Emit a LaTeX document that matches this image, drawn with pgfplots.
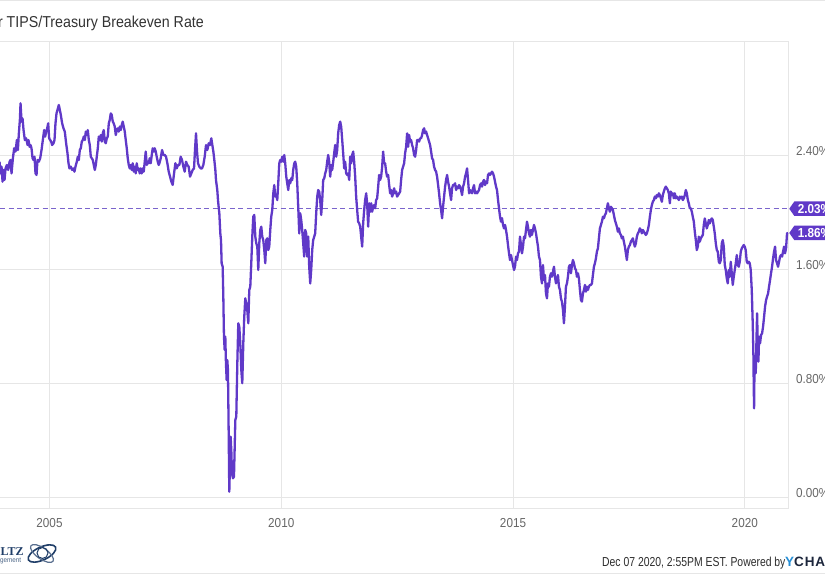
\documentclass[border=0pt]{standalone}
\usepackage{pgfplots}
\pgfplotsset{compat=1.18}
\usepackage{pgfplotstable}
\usepackage{fontspec}
\setmainfont{Liberation Sans}[FakeStretch=0.9]
\newfontfamily\footfont{Liberation Sans}[FakeStretch=0.8]
\newfontfamily\brandfont{Liberation Sans}[LetterSpace=6]
\newfontfamily\logofont{Liberation Serif}
\usetikzlibrary{shapes.symbols}

\definecolor{ycpurple}{RGB}{96,57,200}
\definecolor{dashpurple}{RGB}{122,100,204}
\definecolor{gridgray}{RGB}{230,230,230}
\definecolor{ticklab}{RGB}{102,102,102}
\definecolor{titlegray}{RGB}{51,51,51}
\definecolor{footgray}{RGB}{45,45,45}
\definecolor{ycblue}{RGB}{36,142,214}
\definecolor{ycnavy}{RGB}{28,38,60}
\definecolor{logonavy}{RGB}{32,62,104}

% 10-year breakeven inflation rate, percent (weekly readings)
\pgfplotstableread[row sep=\\]{
year rate\\
2003.922 2.360\\ 2003.944 2.278\\ 2003.965 2.325\\ 2003.987 2.220\\ 2004.009 2.302\\ 2004.030 2.232\\
2004.052 2.313\\ 2004.080 2.337\\ 2004.109 2.302\\ 2004.138 2.360\\ 2004.159 2.372\\ 2004.181 2.278\\
2004.210 2.384\\ 2004.238 2.454\\ 2004.267 2.431\\ 2004.296 2.512\\ 2004.318 2.442\\ 2004.339 2.559\\
2004.361 2.653\\ 2004.375 2.770\\ 2004.397 2.641\\ 2004.418 2.664\\ 2004.440 2.582\\ 2004.468 2.512\\
2004.497 2.524\\ 2004.526 2.477\\ 2004.547 2.512\\ 2004.569 2.465\\ 2004.591 2.477\\ 2004.612 2.454\\
2004.634 2.384\\ 2004.655 2.372\\ 2004.677 2.395\\ 2004.698 2.278\\ 2004.720 2.267\\ 2004.741 2.372\\
2004.770 2.360\\ 2004.799 2.384\\ 2004.828 2.442\\ 2004.856 2.512\\ 2004.885 2.582\\ 2004.907 2.536\\
2004.928 2.571\\ 2004.950 2.594\\ 2004.971 2.629\\ 2004.993 2.524\\ 2005.014 2.512\\ 2005.036 2.501\\
2005.057 2.477\\ 2005.086 2.489\\ 2005.108 2.512\\ 2005.129 2.629\\ 2005.151 2.699\\ 2005.172 2.723\\
2005.201 2.758\\ 2005.223 2.723\\ 2005.244 2.688\\ 2005.273 2.629\\ 2005.302 2.594\\ 2005.330 2.571\\
2005.359 2.489\\ 2005.388 2.419\\ 2005.410 2.349\\ 2005.431 2.313\\ 2005.460 2.325\\ 2005.489 2.302\\
2005.517 2.313\\ 2005.539 2.290\\ 2005.560 2.325\\ 2005.589 2.360\\ 2005.611 2.395\\ 2005.632 2.372\\
2005.654 2.442\\ 2005.675 2.454\\ 2005.697 2.501\\ 2005.718 2.512\\ 2005.740 2.536\\ 2005.762 2.512\\
2005.783 2.571\\ 2005.805 2.547\\ 2005.826 2.582\\ 2005.848 2.512\\ 2005.869 2.477\\ 2005.891 2.395\\
2005.912 2.384\\ 2005.934 2.372\\ 2005.956 2.337\\ 2005.977 2.302\\ 2005.999 2.337\\ 2006.020 2.395\\
2006.042 2.454\\ 2006.063 2.536\\ 2006.085 2.512\\ 2006.106 2.547\\ 2006.128 2.501\\ 2006.149 2.559\\
2006.171 2.582\\ 2006.193 2.501\\ 2006.214 2.489\\ 2006.236 2.524\\ 2006.257 2.536\\ 2006.279 2.629\\
2006.300 2.653\\ 2006.322 2.699\\ 2006.343 2.688\\ 2006.365 2.641\\ 2006.386 2.629\\ 2006.408 2.606\\
2006.430 2.547\\ 2006.451 2.582\\ 2006.473 2.594\\ 2006.494 2.571\\ 2006.516 2.606\\ 2006.537 2.582\\
2006.559 2.618\\ 2006.580 2.641\\ 2006.602 2.606\\ 2006.624 2.571\\ 2006.645 2.512\\ 2006.667 2.454\\
2006.688 2.384\\ 2006.710 2.337\\ 2006.731 2.313\\ 2006.753 2.337\\ 2006.774 2.302\\ 2006.796 2.349\\
2006.817 2.290\\ 2006.839 2.325\\ 2006.861 2.278\\ 2006.882 2.349\\ 2006.904 2.302\\ 2006.925 2.313\\
2006.947 2.278\\ 2006.968 2.313\\ 2006.990 2.278\\ 2007.011 2.313\\ 2007.033 2.290\\ 2007.055 2.360\\
2007.076 2.431\\ 2007.098 2.337\\ 2007.119 2.360\\ 2007.141 2.349\\ 2007.162 2.384\\ 2007.184 2.349\\
2007.206 2.407\\ 2007.227 2.454\\ 2007.249 2.431\\ 2007.270 2.454\\ 2007.292 2.431\\ 2007.313 2.395\\
2007.335 2.360\\ 2007.356 2.337\\ 2007.371 2.349\\ 2007.400 2.384\\ 2007.428 2.442\\ 2007.457 2.407\\
2007.486 2.407\\ 2007.514 2.395\\ 2007.543 2.349\\ 2007.572 2.290\\ 2007.601 2.255\\ 2007.629 2.220\\
2007.658 2.197\\ 2007.687 2.278\\ 2007.716 2.349\\ 2007.744 2.313\\ 2007.773 2.337\\ 2007.802 2.337\\
2007.830 2.395\\ 2007.859 2.372\\ 2007.888 2.325\\ 2007.917 2.290\\ 2007.945 2.360\\ 2007.974 2.337\\
2008.003 2.325\\ 2008.032 2.255\\ 2008.060 2.278\\ 2008.089 2.302\\ 2008.118 2.313\\ 2008.139 2.442\\
2008.161 2.559\\ 2008.183 2.431\\ 2008.204 2.349\\ 2008.233 2.325\\ 2008.262 2.313\\ 2008.290 2.313\\
2008.319 2.337\\ 2008.348 2.395\\ 2008.377 2.477\\ 2008.405 2.442\\ 2008.434 2.489\\ 2008.463 2.477\\
2008.491 2.524\\ 2008.513 2.477\\ 2008.535 2.431\\ 2008.556 2.372\\ 2008.578 2.302\\ 2008.592 2.231\\
2008.620 2.161\\ 2008.635 2.091\\ 2008.649 2.044\\ 2008.664 1.998\\ 2008.685 1.857\\ 2008.700 1.810\\
2008.714 1.647\\ 2008.736 1.623\\ 2008.750 1.413\\ 2008.764 1.132\\ 2008.779 1.039\\ 2008.793 1.132\\
2008.807 0.945\\ 2008.822 0.828\\ 2008.836 0.968\\ 2008.850 0.898\\ 2008.865 0.477\\ 2008.879 0.044\\
2008.894 0.243\\ 2008.908 0.430\\ 2008.922 0.337\\ 2008.937 0.173\\ 2008.958 0.138\\ 2008.980 0.150\\
2008.994 0.337\\ 2009.009 0.547\\ 2009.030 0.571\\ 2009.052 0.945\\ 2009.073 1.226\\ 2009.095 1.202\\
2009.116 1.085\\ 2009.138 0.898\\ 2009.159 0.805\\ 2009.181 1.085\\ 2009.202 1.272\\ 2009.224 1.401\\
2009.246 1.366\\ 2009.267 1.319\\ 2009.289 1.226\\ 2009.310 1.460\\ 2009.332 1.483\\ 2009.353 1.647\\
2009.375 1.834\\ 2009.396 1.974\\ 2009.418 1.986\\ 2009.440 1.834\\ 2009.461 1.787\\ 2009.483 1.764\\
2009.504 1.600\\ 2009.526 1.787\\ 2009.547 1.881\\ 2009.569 1.904\\ 2009.590 1.834\\ 2009.612 1.810\\
2009.634 1.740\\ 2009.655 1.647\\ 2009.677 1.810\\ 2009.698 1.822\\ 2009.720 1.740\\ 2009.741 1.764\\
2009.763 1.881\\ 2009.784 1.974\\ 2009.806 2.021\\ 2009.828 2.138\\ 2009.849 2.196\\ 2009.871 2.115\\
2009.892 2.126\\ 2009.914 2.091\\ 2009.935 2.208\\ 2009.957 2.348\\ 2009.978 2.372\\ 2010.000 2.360\\
2010.021 2.395\\ 2010.043 2.360\\ 2010.065 2.407\\ 2010.086 2.348\\ 2010.108 2.255\\ 2010.129 2.208\\
2010.151 2.161\\ 2010.172 2.231\\ 2010.194 2.208\\ 2010.215 2.243\\ 2010.237 2.231\\ 2010.258 2.302\\
2010.280 2.348\\ 2010.301 2.360\\ 2010.323 2.325\\ 2010.345 2.208\\ 2010.366 2.044\\ 2010.388 1.857\\
2010.409 1.998\\ 2010.431 1.951\\ 2010.452 1.881\\ 2010.474 1.787\\ 2010.495 1.694\\ 2010.517 1.881\\
2010.538 1.857\\ 2010.560 1.694\\ 2010.582 1.834\\ 2010.603 1.623\\ 2010.625 1.506\\ 2010.646 1.600\\
2010.668 1.740\\ 2010.689 1.810\\ 2010.711 1.834\\ 2010.732 1.857\\ 2010.754 1.998\\ 2010.776 2.115\\
2010.797 2.161\\ 2010.819 2.150\\ 2010.840 2.091\\ 2010.862 1.986\\ 2010.884 2.091\\ 2010.905 2.232\\
2010.927 2.243\\ 2010.948 2.278\\ 2010.970 2.302\\ 2010.991 2.360\\ 2011.013 2.407\\ 2011.034 2.360\\
2011.056 2.255\\ 2011.078 2.337\\ 2011.099 2.302\\ 2011.121 2.360\\ 2011.142 2.419\\ 2011.164 2.477\\
2011.185 2.395\\ 2011.207 2.442\\ 2011.228 2.559\\ 2011.250 2.618\\ 2011.272 2.641\\ 2011.293 2.606\\
2011.315 2.512\\ 2011.336 2.419\\ 2011.358 2.313\\ 2011.379 2.360\\ 2011.401 2.278\\ 2011.422 2.267\\
2011.444 2.278\\ 2011.466 2.232\\ 2011.487 2.395\\ 2011.509 2.349\\ 2011.530 2.407\\ 2011.552 2.431\\
2011.573 2.360\\ 2011.595 2.255\\ 2011.616 2.115\\ 2011.638 2.021\\ 2011.659 1.939\\ 2011.681 1.928\\
2011.703 1.904\\ 2011.724 1.834\\ 2011.746 1.764\\ 2011.767 1.928\\ 2011.789 2.021\\ 2011.810 2.091\\
2011.832 2.138\\ 2011.853 2.068\\ 2011.875 1.904\\ 2011.897 2.068\\ 2011.918 2.009\\ 2011.940 2.068\\
2011.961 2.009\\ 2011.983 2.044\\ 2012.004 2.056\\ 2012.026 2.033\\ 2012.047 2.091\\ 2012.069 2.103\\
2012.091 2.185\\ 2012.112 2.267\\ 2012.134 2.232\\ 2012.155 2.255\\ 2012.177 2.325\\ 2012.198 2.431\\
2012.220 2.349\\ 2012.241 2.349\\ 2012.263 2.290\\ 2012.284 2.255\\ 2012.306 2.267\\ 2012.328 2.197\\
2012.349 2.138\\ 2012.371 2.161\\ 2012.392 2.115\\ 2012.414 2.138\\ 2012.435 2.173\\ 2012.457 2.138\\
2012.478 2.150\\ 2012.500 2.115\\ 2012.522 2.126\\ 2012.543 2.138\\ 2012.565 2.150\\ 2012.586 2.232\\
2012.608 2.302\\ 2012.629 2.325\\ 2012.651 2.349\\ 2012.672 2.419\\ 2012.694 2.465\\ 2012.716 2.559\\
2012.737 2.465\\ 2012.759 2.547\\ 2012.780 2.501\\ 2012.802 2.512\\ 2012.823 2.477\\ 2012.845 2.454\\
2012.866 2.407\\ 2012.888 2.395\\ 2012.910 2.442\\ 2012.931 2.512\\ 2012.953 2.512\\ 2012.974 2.501\\
2012.996 2.524\\ 2013.017 2.524\\ 2013.039 2.547\\ 2013.060 2.582\\ 2013.082 2.594\\ 2013.103 2.559\\
2013.125 2.571\\ 2013.147 2.547\\ 2013.168 2.524\\ 2013.190 2.501\\ 2013.211 2.477\\ 2013.233 2.431\\
2013.254 2.384\\ 2013.276 2.372\\ 2013.297 2.325\\ 2013.319 2.302\\ 2013.341 2.290\\ 2013.362 2.255\\
2013.384 2.197\\ 2013.405 2.138\\ 2013.427 2.068\\ 2013.448 2.021\\ 2013.470 1.963\\ 2013.491 2.044\\
2013.513 2.115\\ 2013.535 2.185\\ 2013.556 2.232\\ 2013.578 2.267\\ 2013.599 2.220\\ 2013.621 2.185\\
2013.642 2.138\\ 2013.664 2.091\\ 2013.685 2.173\\ 2013.707 2.197\\ 2013.728 2.197\\ 2013.750 2.208\\
2013.772 2.161\\ 2013.793 2.185\\ 2013.815 2.173\\ 2013.836 2.196\\ 2013.858 2.185\\ 2013.879 2.161\\
2013.901 2.126\\ 2013.922 2.185\\ 2013.944 2.208\\ 2013.966 2.255\\ 2013.987 2.278\\ 2014.009 2.313\\
2014.030 2.232\\ 2014.052 2.138\\ 2014.073 2.161\\ 2014.095 2.150\\ 2014.116 2.138\\ 2014.138 2.173\\
2014.159 2.196\\ 2014.181 2.138\\ 2014.203 2.150\\ 2014.224 2.138\\ 2014.246 2.150\\ 2014.267 2.161\\
2014.289 2.196\\ 2014.310 2.208\\ 2014.332 2.185\\ 2014.353 2.220\\ 2014.375 2.232\\ 2014.397 2.196\\
2014.418 2.220\\ 2014.440 2.208\\ 2014.461 2.267\\ 2014.483 2.278\\ 2014.504 2.267\\ 2014.526 2.278\\
2014.547 2.290\\ 2014.569 2.278\\ 2014.591 2.255\\ 2014.612 2.220\\ 2014.634 2.185\\ 2014.655 2.161\\
2014.677 2.091\\ 2014.698 2.033\\ 2014.720 1.974\\ 2014.741 1.939\\ 2014.763 1.963\\ 2014.785 1.916\\
2014.806 1.892\\ 2014.828 1.916\\ 2014.849 1.881\\ 2014.871 1.834\\ 2014.892 1.775\\ 2014.914 1.717\\
2014.935 1.670\\ 2014.957 1.705\\ 2014.978 1.670\\ 2015.000 1.635\\ 2015.022 1.600\\ 2015.043 1.623\\
2015.065 1.694\\ 2015.086 1.670\\ 2015.108 1.717\\ 2015.129 1.729\\ 2015.151 1.834\\ 2015.172 1.775\\
2015.194 1.717\\ 2015.216 1.764\\ 2015.237 1.834\\ 2015.259 1.822\\ 2015.280 1.881\\ 2015.302 1.939\\
2015.323 1.904\\ 2015.345 1.857\\ 2015.366 1.834\\ 2015.388 1.881\\ 2015.409 1.846\\ 2015.431 1.881\\
2015.453 1.916\\ 2015.474 1.892\\ 2015.496 1.857\\ 2015.517 1.811\\ 2015.539 1.764\\ 2015.560 1.694\\
2015.582 1.670\\ 2015.603 1.553\\ 2015.625 1.506\\ 2015.647 1.635\\ 2015.668 1.530\\ 2015.690 1.565\\
2015.711 1.436\\ 2015.733 1.401\\ 2015.754 1.506\\ 2015.776 1.483\\ 2015.797 1.553\\ 2015.819 1.577\\
2015.841 1.553\\ 2015.862 1.588\\ 2015.884 1.623\\ 2015.905 1.553\\ 2015.927 1.506\\ 2015.948 1.530\\
2015.970 1.565\\ 2015.991 1.483\\ 2016.013 1.460\\ 2016.034 1.401\\ 2016.056 1.378\\ 2016.078 1.319\\
2016.099 1.226\\ 2016.121 1.343\\ 2016.142 1.483\\ 2016.164 1.506\\ 2016.185 1.553\\ 2016.207 1.623\\
2016.228 1.635\\ 2016.250 1.577\\ 2016.272 1.635\\ 2016.293 1.670\\ 2016.315 1.647\\ 2016.336 1.612\\
2016.358 1.600\\ 2016.379 1.553\\ 2016.401 1.577\\ 2016.422 1.541\\ 2016.444 1.460\\ 2016.466 1.389\\
2016.487 1.378\\ 2016.509 1.436\\ 2016.530 1.460\\ 2016.552 1.495\\ 2016.573 1.448\\ 2016.595 1.483\\
2016.616 1.460\\ 2016.638 1.483\\ 2016.659 1.495\\ 2016.681 1.495\\ 2016.703 1.506\\ 2016.724 1.565\\
2016.746 1.623\\ 2016.767 1.647\\ 2016.789 1.682\\ 2016.810 1.729\\ 2016.832 1.752\\ 2016.853 1.822\\
2016.875 1.892\\ 2016.897 1.916\\ 2016.918 1.939\\ 2016.940 1.974\\ 2016.961 1.963\\ 2016.983 1.986\\
2017.004 1.998\\ 2017.026 2.033\\ 2017.047 2.068\\ 2017.069 2.033\\ 2017.090 2.009\\ 2017.112 2.044\\
2017.134 2.033\\ 2017.155 2.021\\ 2017.177 1.986\\ 2017.198 1.951\\ 2017.220 1.927\\ 2017.241 1.904\\
2017.263 1.869\\ 2017.284 1.892\\ 2017.306 1.857\\ 2017.328 1.846\\ 2017.349 1.822\\ 2017.371 1.834\\
2017.392 1.799\\ 2017.414 1.764\\ 2017.435 1.717\\ 2017.457 1.670\\ 2017.478 1.740\\ 2017.500 1.764\\
2017.522 1.775\\ 2017.543 1.799\\ 2017.565 1.810\\ 2017.586 1.822\\ 2017.608 1.787\\ 2017.629 1.764\\
2017.651 1.787\\ 2017.672 1.834\\ 2017.694 1.857\\ 2017.715 1.869\\ 2017.737 1.892\\ 2017.759 1.881\\
2017.780 1.857\\ 2017.802 1.881\\ 2017.823 1.869\\ 2017.845 1.857\\ 2017.866 1.846\\ 2017.888 1.857\\
2017.909 1.881\\ 2017.931 1.916\\ 2017.953 1.974\\ 2017.974 2.021\\ 2017.996 2.056\\ 2018.017 2.079\\
2018.039 2.091\\ 2018.060 2.115\\ 2018.082 2.103\\ 2018.103 2.126\\ 2018.125 2.115\\ 2018.147 2.138\\
2018.168 2.126\\ 2018.190 2.103\\ 2018.211 2.079\\ 2018.233 2.126\\ 2018.254 2.150\\ 2018.276 2.173\\
2018.297 2.185\\ 2018.319 2.173\\ 2018.341 2.161\\ 2018.362 2.138\\ 2018.384 2.068\\ 2018.405 2.150\\
2018.427 2.126\\ 2018.448 2.138\\ 2018.470 2.103\\ 2018.491 2.138\\ 2018.513 2.103\\ 2018.534 2.115\\
2018.556 2.103\\ 2018.578 2.091\\ 2018.599 2.115\\ 2018.621 2.103\\ 2018.642 2.115\\ 2018.664 2.091\\
2018.685 2.103\\ 2018.707 2.126\\ 2018.728 2.161\\ 2018.750 2.138\\ 2018.772 2.091\\ 2018.793 2.068\\
2018.815 2.033\\ 2018.836 2.033\\ 2018.858 2.009\\ 2018.879 1.974\\ 2018.901 1.939\\ 2018.922 1.869\\
2018.944 1.810\\ 2018.965 1.740\\ 2018.987 1.764\\ 2019.009 1.834\\ 2019.030 1.799\\ 2019.052 1.822\\
2019.073 1.834\\ 2019.095 1.846\\ 2019.116 1.916\\ 2019.138 1.962\\ 2019.159 1.927\\ 2019.181 1.892\\
2019.203 1.916\\ 2019.224 1.951\\ 2019.246 1.927\\ 2019.267 1.951\\ 2019.289 1.962\\ 2019.310 1.951\\
2019.332 1.904\\ 2019.353 1.857\\ 2019.375 1.787\\ 2019.397 1.740\\ 2019.418 1.729\\ 2019.440 1.658\\
2019.461 1.647\\ 2019.483 1.670\\ 2019.504 1.787\\ 2019.526 1.810\\ 2019.547 1.764\\ 2019.569 1.635\\
2019.590 1.600\\ 2019.612 1.541\\ 2019.634 1.506\\ 2019.655 1.600\\ 2019.677 1.553\\ 2019.698 1.658\\
2019.720 1.577\\ 2019.741 1.495\\ 2019.763 1.553\\ 2019.784 1.600\\ 2019.806 1.647\\ 2019.828 1.705\\
2019.849 1.635\\ 2019.871 1.623\\ 2019.892 1.658\\ 2019.914 1.729\\ 2019.935 1.752\\ 2019.957 1.764\\
2019.978 1.775\\ 2020.000 1.764\\ 2020.021 1.740\\ 2020.043 1.658\\ 2020.065 1.647\\ 2020.086 1.658\\
2020.108 1.647\\ 2020.129 1.600\\ 2020.151 1.460\\ 2020.172 1.226\\ 2020.187 0.992\\ 2020.194 0.781\\
2020.201 0.629\\ 2020.208 0.851\\ 2020.223 0.945\\ 2020.237 0.875\\ 2020.251 1.085\\ 2020.266 1.296\\
2020.280 1.085\\ 2020.295 0.957\\ 2020.309 1.132\\ 2020.330 1.085\\ 2020.352 1.144\\ 2020.374 1.156\\
2020.395 1.202\\ 2020.417 1.272\\ 2020.438 1.343\\ 2020.460 1.389\\ 2020.481 1.413\\ 2020.503 1.436\\
2020.524 1.483\\ 2020.546 1.530\\ 2020.567 1.577\\ 2020.589 1.623\\ 2020.611 1.682\\ 2020.632 1.729\\
2020.654 1.764\\ 2020.675 1.670\\ 2020.697 1.647\\ 2020.718 1.623\\ 2020.740 1.658\\ 2020.761 1.694\\
2020.783 1.705\\ 2020.805 1.694\\ 2020.826 1.729\\ 2020.848 1.764\\ 2020.869 1.717\\ 2020.891 1.752\\
2020.912 1.857\\ 2020.934 1.860\\
}\breakeven

\begin{document}
\begin{tikzpicture}[x=1bp,y=1bp]
\useasboundingbox (0,0) rectangle (825,575);
\fill[white] (0,0) rectangle (825,575);
% frame lines at the top edge and above the footer
\draw[gridgray, line width=1bp] (0,574.5) -- (825,574.5);
\draw[gridgray, line width=1bp] (0,1) -- (825,1);

% title
\node[anchor=base east, inner sep=0pt, text=titlegray,
      font=\fontsize{15.8bp}{18bp}\selectfont] at (204,547.5)
      {10 Year TIPS/Treasury Breakeven Rate};

\begin{axis}[
  at={(0bp,66bp)}, anchor=south west,
  scale only axis, width=788.5bp, height=467bp,
  xmin=2003.932, xmax=2020.944,
  ymin=-0.0772, ymax=3.2,
  separate axis lines,
  axis x line*=bottom, axis y line*=right,
  axis line style={draw=gridgray, line width=1bp},
  xtick={2005,2010,2015,2020},
  xticklabels={2005,2010,2015,2020},
  ytick={0,0.8,1.6,2.4,3.2},
  yticklabels={0.00\%,0.80\%,1.60\%,2.40\%,{}},
  major tick length=0pt,
  grid=major,
  major grid style={draw=gridgray, line width=1bp},
  ticklabel style={text=ticklab, font=\fontsize{13bp}{15bp}\selectfont, inner sep=0pt},
  xticklabel style={anchor=north, yshift=-9bp},
  yticklabel style={anchor=west, xshift=7.5bp, yshift=5bp},
  clip mode=individual,
]
  % latest-value reference line
  \addplot[dashpurple, line width=1.2bp, dash pattern=on 5bp off 3.5bp]
    coordinates {(2003.932,2.03) (2020.944,2.03)};
  \addplot[ycpurple, line width=2.3bp, line join=round, mark=none]
    table[x=year, y=rate] {\breakeven};
  \coordinate (tagA) at (axis cs:2020.944,2.03);
  \coordinate (tagB) at (axis cs:2020.944,1.86);
\end{axis}

% value tags on the right edge
\foreach \c/\t in {tagA/2.03\%, tagB/1.86\%}{
  \node[signal, signal to=west, signal pointer angle=110, fill=ycpurple,
        text=white, anchor=west, inner xsep=3.5bp, inner ysep=0pt,
        minimum height=14.5bp, xshift=0.5bp,
        font=\bfseries\fontsize{13bp}{13bp}\selectfont] at (\c) {\t};
}

% footer
\node[anchor=base west, inner sep=0pt, text=footgray,
      font=\footfont\fontsize{13bp}{15bp}\selectfont] at (602,8.5)
      {Dec 07 2020, 2:55PM EST. Powered by};
\node[anchor=base west, inner sep=0pt,
      font=\brandfont\bfseries\fontsize{13.5bp}{15bp}\selectfont] at (785,8.5)
      {\textcolor{ycblue}{Y}\textcolor{ycnavy}{CHARTS}};

% logo
\node[anchor=base west, inner sep=0pt, text=logonavy,
      font=\logofont\bfseries\fontsize{12bp}{13bp}\selectfont] at (0.5,19.5) {LTZ};
\node[anchor=base west, inner sep=0pt, text=logonavy!80,
      font=\fontsize{7bp}{8bp}\selectfont] at (0,12) {gement};
\draw[logonavy, line width=1.6bp] (42,21.5) ellipse [x radius=15, y radius=6.5, rotate=25];
\draw[logonavy!75!white, line width=1.2bp] (42,21.5) ellipse [x radius=13.5, y radius=5.5, rotate=-35];
\draw[logonavy, line width=1bp] (42.5,22) circle [radius=5.5];
\end{tikzpicture}
\end{document}
